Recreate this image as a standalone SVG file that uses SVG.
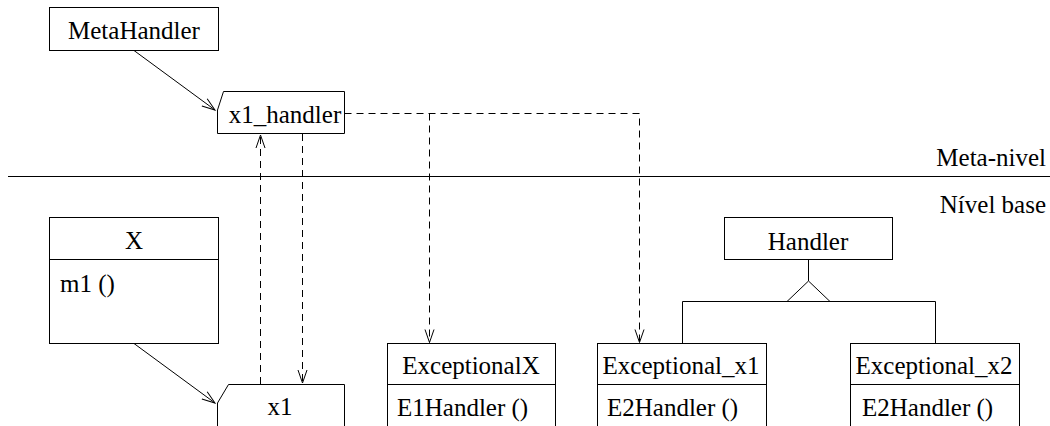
<svg xmlns="http://www.w3.org/2000/svg" width="1050" height="426" viewBox="0 0 1050 426">
<style>
  .box { fill: #fff; stroke: #000; stroke-width: 1; }
  .ln { fill: none; stroke: #000; stroke-width: 1; }
  .dash { fill: none; stroke: #000; stroke-width: 1; stroke-dasharray: 7 5; }
  .t { font-family: "Liberation Serif", "Times New Roman", serif; font-size: 25px; fill: #000; }
  .c { text-anchor: middle; }
  .e { text-anchor: end; }
  .head { fill: none; stroke: #000; stroke-width: 1; stroke-dasharray: none; }
</style>
<defs>
  <marker id="open" markerUnits="userSpaceOnUse" viewBox="-14 -6 16 12" refX="0" refY="0" markerWidth="16" markerHeight="12" orient="auto" overflow="visible">
    <path class="head" d="M-13,-4.5 L0,0 L-13,4.5"/>
  </marker>
</defs>

<!-- level separator -->
<g id="separator">
  <line class="ln" x1="8" y1="176.5" x2="1050" y2="176.5"/>
  <text class="t e" x="1046" y="166">Meta-nivel</text>
  <text class="t e" x="1046" y="213">Nível base</text>
</g>

<g id="MetaHandler">
  <rect class="box" x="49.5" y="7.5" width="169" height="43"/>
  <text class="t c" x="134" y="39">MetaHandler</text>
</g>

<g id="x1_handler">
  <polygon class="box" points="223.5,91.5 344.5,91.5 344.5,133.5 217.5,133.5 217.5,110"/>
  <text class="t c" x="285" y="123">x1_handler</text>
</g>

<g id="X">
  <rect class="box" x="49.5" y="217.5" width="169" height="126"/>
  <line class="ln" x1="49.5" y1="259.5" x2="218.5" y2="259.5"/>
  <text class="t c" x="134" y="249">X</text>
  <text class="t" x="60" y="292">m1 ()</text>
</g>

<g id="x1">
  <polygon class="box" points="228.5,384.5 344.5,384.5 344.5,440 217.5,440 217.5,403"/>
  <text class="t c" x="280" y="415">x1</text>
</g>

<g id="Handler">
  <rect class="box" x="724.5" y="217.5" width="168" height="42"/>
  <text class="t c" x="808" y="250">Handler</text>
</g>

<g id="ExceptionalX">
  <rect class="box" x="387.5" y="343.5" width="168" height="100"/>
  <line class="ln" x1="387.5" y1="384.5" x2="555.5" y2="384.5"/>
  <text class="t c" x="471" y="374">ExceptionalX</text>
  <text class="t" x="397" y="416">E1Handler ()</text>
</g>

<g id="Exceptional_x1">
  <rect class="box" x="597.5" y="343.5" width="169" height="100"/>
  <line class="ln" x1="597.5" y1="384.5" x2="766.5" y2="384.5"/>
  <text class="t c" x="681" y="374">Exceptional_x1</text>
  <text class="t" x="607" y="416">E2Handler ()</text>
</g>

<g id="Exceptional_x2">
  <rect class="box" x="850.5" y="343.5" width="169" height="100"/>
  <line class="ln" x1="850.5" y1="384.5" x2="1019.5" y2="384.5"/>
  <text class="t c" x="934" y="374">Exceptional_x2</text>
  <text class="t" x="862" y="416">E2Handler ()</text>
</g>

<g id="connectors">
  <line class="ln" x1="134" y1="50.5" x2="215" y2="110" marker-end="url(#open)"/>
  <line class="ln" x1="134" y1="343.5" x2="215" y2="403" marker-end="url(#open)"/>
  <line class="dash" x1="260.5" y1="384" x2="260.5" y2="135" marker-end="url(#open)"/>
  <line class="dash" x1="302.5" y1="134" x2="302.5" y2="383" marker-end="url(#open)"/>
  <path class="dash" d="M344.5,113.5 H639.5 V342.5" marker-end="url(#open)"/>
  <path class="dash" d="M429.5,113.5 V342.5" marker-end="url(#open)"/>
  <line class="ln" x1="808.5" y1="259.5" x2="808.5" y2="281"/>
  <polygon class="box" points="808.5,281 787,301.5 830,301.5"/>
  <path class="ln" d="M682.5,343.5 V301.5 H935.5 V343.5"/>
</g>
</svg>
